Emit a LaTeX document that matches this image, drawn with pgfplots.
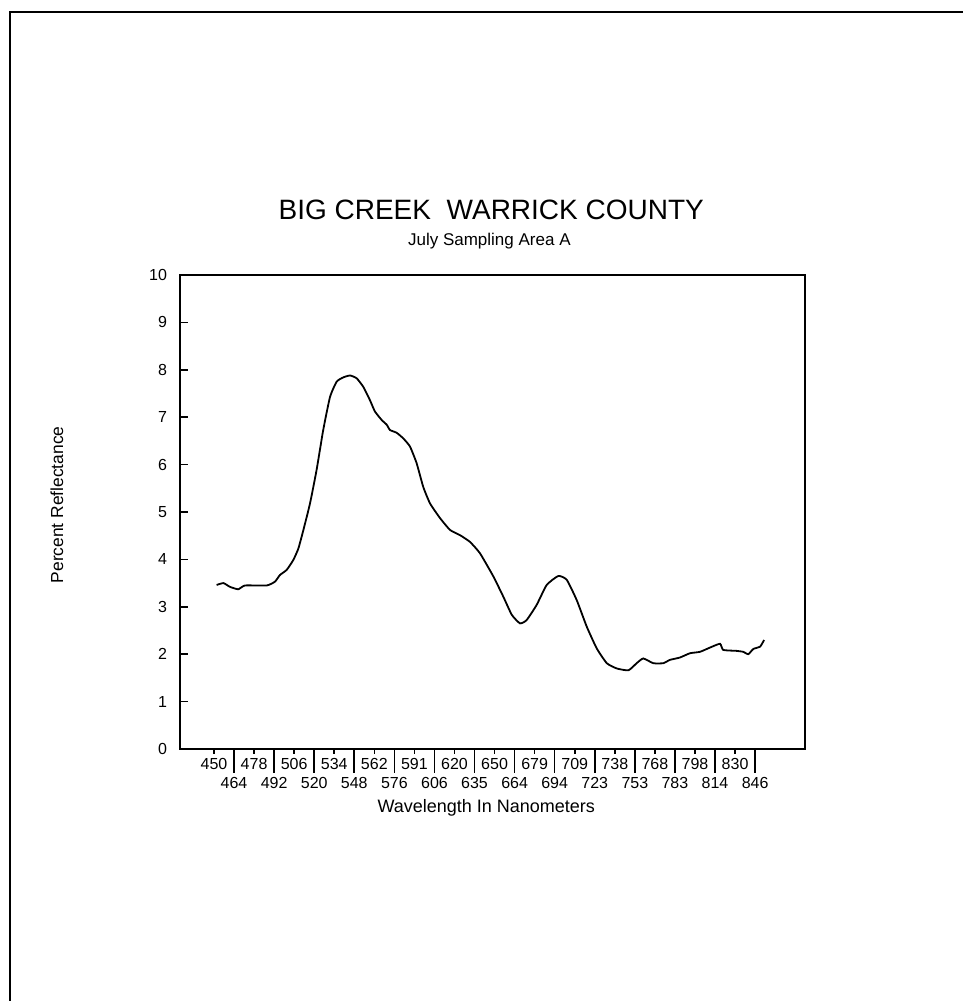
\documentclass[border=0pt]{standalone}
\usepackage{fontspec}
\setmainfont{Liberation Sans}
\usepackage{pgfplots}
\pgfplotsset{compat=1.18}
\begin{document}
\begin{tikzpicture}
\useasboundingbox (0,0) rectangle (481.5pt,500.5pt);
\draw[line width=1.4pt] (5pt,0pt) -- (5pt,494.5pt) -- (481.5pt,494.5pt);
\begin{axis}[
  at={(90pt,126pt)}, anchor=south west,
  scale only axis, width=312.5pt, height=237pt,
  axis line style={line width=0.9pt},
  xmin=-1.697, xmax=29.49, ymin=0, ymax=10,
  ytick=\empty, ytick pos=left, ytick align=inside,
  extra y ticks={0,1,...,10},
  extra y tick style={major tick length=4pt, yticklabel style={font=\fontsize{8}{9}\selectfont, xshift=-3pt}},
  xtick={0,2,...,26},
  xticklabels={450,478,506,534,562,591,620,650,679,709,738,768,798,830},
  xtick pos=bottom, xtick align=outside,
  major tick length=2.5pt,
  tick style={line width=0.8pt, black},
  xticklabel style={font=\fontsize{8}{9}\selectfont, yshift=1.5pt},
  extra x ticks={1,3,...,27},
  extra x tick labels={464,492,520,548,576,606,635,664,694,723,753,783,814,846},
  extra x tick style={major tick length=12pt, xticklabel style={yshift=0pt}},
  /pgf/number format/assume math mode=true,
  xlabel={Wavelength In Nanometers},
  ylabel={Percent Reflectance},
  x label style={at={(axis description cs:0.49,-0.1245)}, anchor=center, font=\fontsize{9}{10}\selectfont},
  y label style={at={(axis description cs:-0.197,0.515)}, anchor=center, rotate=0, font=\fontsize{8.7}{10}\selectfont},
  clip=false,
]
\addplot[black, line width=0.9pt, smooth, tension=0.3] coordinates {
(0.13,3.46) (0.47,3.50) (0.80,3.42) (1.21,3.37) (1.55,3.45) (2.63,3.45)
(3.04,3.53) (3.29,3.67) (3.63,3.78) (3.96,3.99) (4.21,4.23) (4.46,4.62)
(4.79,5.18) (5.12,5.89) (5.45,6.73) (5.79,7.43) (6.12,7.75) (6.45,7.84)
(6.79,7.88) (7.12,7.82) (7.45,7.64) (7.78,7.36) (8.03,7.12) (8.37,6.94)
(8.62,6.84) (8.78,6.73) (9.12,6.67) (9.45,6.55) (9.78,6.38) (10.11,6.03)
(10.44,5.53) (10.78,5.18) (11.28,4.87) (11.78,4.62) (12.28,4.51) (12.77,4.37)
(13.27,4.13) (13.94,3.64) (14.44,3.21) (14.86,2.83) (15.27,2.65) (15.60,2.72)
(16.10,3.04) (16.60,3.46) (17.18,3.65) (17.60,3.57) (18.10,3.14) (18.60,2.58)
(19.10,2.12) (19.60,1.81) (20.09,1.70) (20.68,1.66) (21.09,1.81) (21.42,1.91)
(21.92,1.81) (22.42,1.81) (22.75,1.88) (23.25,1.93) (23.75,2.02) (24.25,2.05)
(24.75,2.14) (25.25,2.22) (25.41,2.09) (26.08,2.07) (26.41,2.05) (26.66,2.00)
(26.91,2.11) (27.25,2.16) (27.45,2.30)
};
\node[font=\fontsize{14}{16}\selectfont] at (axis description cs:0.498,1.137) {BIG CREEK\ \ WARRICK COUNTY};
\node[font=\fontsize{8.5}{10}\selectfont] at (axis description cs:0.495,1.072) {July Sampling Area A};
\end{axis}
\end{tikzpicture}
\end{document}
